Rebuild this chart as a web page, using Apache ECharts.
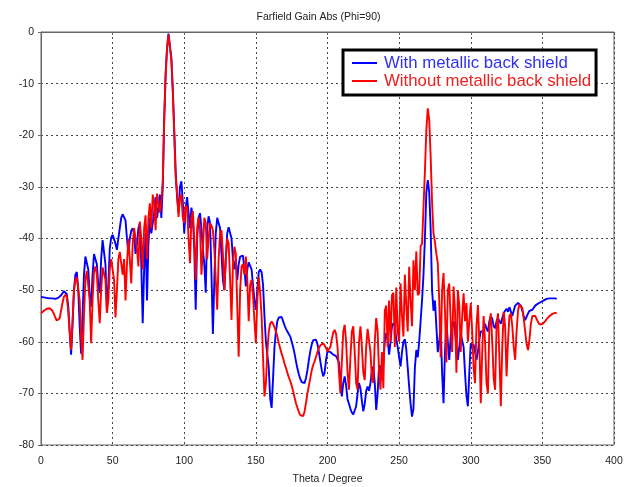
<!DOCTYPE html>
<html>
<head>
<meta charset="utf-8">
<script src="https://cdn.jsdelivr.net/npm/echarts@6/dist/echarts.min.js"></script>
<style>html,body{margin:0;padding:0;background:#fff}#c{width:637px;height:487px}</style>
</head>
<body>
<div id="c"></div>
<script>
// Theta samples: 0..360 degrees, 1-degree step
const thetaStart = 0;
const thetaStep = 1;
const xTicks = [0, 50, 100, 150, 200, 250, 300, 350, 400];
const yTicks = [-80, -70, -60, -50, -40, -30, -20, -10, 0];
const seriesNames = ['With metallic back shield', 'Without metallic back shield'];

// Gain (dB) with metallic back shield, theta = 0..360
const withShield = [
-51.3,-51.3,-51.4,-51.4,-51.5,-51.5,-51.6,-51.6,-51.6,-51.7,
-51.7,-51.6,-51.5,-51.3,-51.0,-50.6,-50.2,-50.1,-50.8,-53,
-58,-62.5,-57,-50,-47,-46.5,-50,-57,-62.3,-55,
-47,-43.5,-43.2,-46,-51,-53.2,-47,-43,-42.7,-45,
-49,-50.5,-44,-40.3,-40,-45,-53.8,-49,-42,-39.8,
-39.3,-39.5,-41,-42.2,-40,-38,-36,-35.3,-35.1,-36.5,
-40,-43,-40,-38.5,-38,-39,-43,-41,-38,-37,
-45,-56.4,-46,-39,-52,-41,-36,-39,-37,-35,
-32,-36,-34,-31.5,-36,-30,-17,-8,-3,-0.3,
-0.5,-5,-11,-19,-27,-32,-35,-30,-28.9,-33,
-39,-34,-32,-35,-38,-34,-36,-42,-53.8,-40,
-36,-35.1,-38,-42,-45,-50.5,-38,-35.7,-37,-47,
-58.5,-48,-39,-36,-35.8,-38,-43,-48,-50,-44,
-39,-37.8,-37.7,-40,-44,-46,-44,-48,-45,-43.5,
-43.2,-43.3,-46,-49.3,-46,-44.6,-44.5,-46,-49,-52,
-53.8,-50,-46.5,-46,-46.5,-49,-55,-60,-60.3,-65,
-71,-72.8,-67,-61,-58,-56,-55.3,-55.1,-55.2,-56,
-56.8,-57.5,-58,-58.3,-59,-60,-61,-62.3,-63.8,-65.2,
-66.3,-67.2,-67.8,-68.1,-68,-67,-65.5,-63.5,-61.8,-60.5,
-59.7,-59.4,-59.6,-60.5,-62,-63.8,-65.5,-66.7,-66,-63.5,
-61.8,-61.6,-62,-62.3,-62.5,-62.6,-62.8,-63,-64,-67,
-70.6,-68,-66.7,-68.5,-71.2,-72,-73,-73.7,-74.1,-74,
-72.5,-70,-68,-69,-71.5,-73.5,-72,-69.5,-68.7,-69.5,
-68,-65.5,-64.8,-68,-73.2,-70,-64.5,-65,-67.4,-64,
-60,-58.3,-59.5,-62.5,-60,-57,-56.4,-57,-59.5,-61,
-63,-64.8,-62,-60,-59.5,-61.5,-65,-68.7,-72,-74.5,
-73,-65,-61.6,-63,-60,-56,-52,-47,-40,-31,
-28.7,-31,-38,-50,-54,-52,-57,-62,-60,-57,
-66,-71.9,-62,-56.2,-60,-63.5,-59,-56.5,-56,-58,
-61,-63.5,-61,-58.5,-58.3,-61,-66,-70.5,-72.5,-66,
-60.3,-61,-60.5,-62,-63.5,-62,-59.5,-58,-57.7,-58,
-56.5,-57.5,-58,-56,-55.1,-55.5,-57,-57.4,-56,-55.4,
-56,-56.5,-55.4,-54.5,-54,-53.6,-54.2,-53.3,-53.5,-55,
-54,-53,-52.7,-52.5,-52.5,-53,-54,-55,-55.8,-55.5,
-54.5,-54,-53.8,-53.8,-53.5,-53,-52.8,-52.6,-52.4,-52.3,
-52.2,-52,-51.8,-51.7,-51.6,-51.6,-51.6,-51.6,-51.6,-51.6,
-51.7
];

// Gain (dB) without metallic back shield, theta = 0..360
const withoutShield = [
-54.5,-54.2,-54,-53.8,-53.6,-53.5,-53.5,-53.6,-54,-54.6,
-55.3,-55.9,-56.1,-55.5,-54,-52.5,-51.3,-50.9,-51.3,-54,
-58,-61.6,-56,-50,-48,-47.5,-47.4,-52,-59,-63.5,
-55,-48,-46.3,-46,-52,-60.3,-52,-46.5,-45.4,-47,
-52,-56.4,-50,-45.6,-45.4,-48,-54.4,-52,-46,-44,
-43.8,-48,-55.3,-50,-44,-42.6,-42.5,-47,-44,-52,
-45,-40,-44,-48.7,-41,-38,-37.7,-42,-45.4,-36.7,
-40,-46,-38,-35.5,-44,-36,-33.2,-38,-31.5,-33,
-38.4,-31.3,-31,-35,-33,-29,-17,-8.5,-3.2,-0.5,
-0.6,-5.5,-11.5,-19.5,-28,-31.3,-35.8,-32,-31.5,-36,
-37,-33.6,-34,-40,-44.8,-36,-34.7,-40,-48,-38,
-35.8,-38,-47,-42,-36,-37,-44,-40,-37,-37.5,
-38.4,-42,-48,-53.8,-44,-39,-38.4,-43,-50,-44,
-40,-41,-48,-55.8,-45,-41.6,-43,-53.2,-62.9,-50,
-45.4,-45,-47,-43.5,-48,-56,-49,-48,-51,-56,
-60.3,-52,-47.5,-50.6,-55,-63,-70.6,-68,-62,-58,
-56.5,-56.1,-56.5,-57.2,-58,-59,-60.3,-61.3,-62.3,-63.2,
-64.2,-65.1,-66,-66.9,-67.6,-68.5,-69.6,-70.8,-71.9,-72.8,
-73.6,-74.2,-74.5,-74.4,-73.5,-71.8,-70,-68.5,-67,-65.5,
-64.5,-63.8,-62.9,-62,-61.2,-60.7,-60.4,-60.3,-60.6,-61.2,
-61.9,-62,-61,-59.5,-58.2,-57.7,-58.5,-61,-66,-70,
-64,-58,-56.7,-60,-66,-69.3,-63,-58,-57,-62,
-68,-69.3,-60,-57,-61,-66,-67.4,-61,-57.5,-57.3,
-62,-67,-68,-60,-55.4,-58,-66,-69.3,-62,-69,
-54,-53,-61,-52,-60,-51,-50.5,-61,-49.5,-58,
-60,-48.7,-55,-59,-47,-53,-58,-45.5,-52,-57,
-44.2,-50,-42.5,-51,-50.6,-41.5,-41,-34,-27,-19,
-14.8,-17,-24,-33,-39,-40.7,-43,-44.8,-52,-63,
-50,-46.7,-54,-64,-50,-48.7,-56,-62,-49.3,-54,
-66,-50,-53,-62,-55,-50.6,-56,-52.5,-60,-56,
-52.5,-58,-65,-68,-57,-52.9,-60,-71.9,-62,-55,
-60,-68,-70,-57,-54.5,-60,-67,-69.3,-57,-54.5,
-63,-72.5,-61,-54.2,-57,-66.7,-60,-55,-54.5,-57,
-61,-63.5,-58,-54,-52.8,-52.5,-53.5,-55.5,-58,-60.5,
-61.6,-59.5,-56.5,-55,-54.8,-55,-55.6,-56.2,-56.6,-56.7,
-56.6,-56.3,-56,-55.6,-55.3,-55,-54.8,-54.6,-54.5,-54.4,
-54.5
];

const FONT = '"Liberation Sans", Arial, sans-serif';
const toPairs = arr => arr.map((v, i) => [thetaStart + i * thetaStep, v]);

const chart = echarts.init(document.getElementById('c'), null, {renderer: 'canvas'});
chart.setOption({
  animation: false,
  backgroundColor: '#fff',
  title: {
    text: 'Farfield Gain Abs (Phi=90)',
    left: 'center',
    top: 7,
    textStyle: {fontSize: 10.5, fontWeight: 'normal', color: '#222', fontFamily: FONT}
  },
  legend: {
    orient: 'vertical',
    left: 343,
    top: 50,
    padding: [4, 5, 5, 9],
    itemGap: 0,
    itemWidth: 25,
    itemHeight: 2,
    icon: 'rect',
    borderColor: '#000',
    borderWidth: 3,
    backgroundColor: '#fff',
    data: [
      {name: seriesNames[0], textStyle: {color: '#3030ee'}},
      {name: seriesNames[1], textStyle: {color: '#ee2020'}}
    ],
    textStyle: {fontSize: 16.8, lineHeight: 18, fontFamily: FONT, padding: [0, 0, 0, 2]}
  },
  grid: {left: 41, right: 23, top: 32, bottom: 42, show: true, borderColor: '#666', borderWidth: 1,
         containLabel: false, outerBoundsMode: 'none'},
  xAxis: {
    type: 'value',
    min: xTicks[0], max: xTicks[xTicks.length - 1], interval: 50,
    name: 'Theta / Degree', nameLocation: 'middle', nameGap: 29,
    nameTextStyle: {fontSize: 10.5, color: '#222', fontFamily: FONT},
    axisLine: {lineStyle: {color: '#666', width: 1}},
    axisTick: {show: true, length: 3, lineStyle: {color: '#666'}},
    axisLabel: {fontSize: 10.5, color: '#222', fontFamily: FONT, margin: 11},
    splitLine: {show: true, lineStyle: {color: '#444', type: [2, 3], width: 1}}
  },
  yAxis: {
    type: 'value',
    min: yTicks[0], max: yTicks[yTicks.length - 1], interval: 10,
    axisLine: {show: true, lineStyle: {color: '#666', width: 1}},
    axisTick: {show: true, length: 3, lineStyle: {color: '#666'}},
    axisLabel: {fontSize: 10.5, color: '#222', fontFamily: FONT, margin: 7},
    splitLine: {show: true, lineStyle: {color: '#444', type: [2, 3], width: 1}}
  },
  series: [
    {name: seriesNames[0], type: 'line', data: toPairs(withShield), showSymbol: false, symbol: 'none',
     lineStyle: {color: '#0000ff', width: 1.9}, itemStyle: {color: '#0000ff'}, z: 2},
    {name: seriesNames[1], type: 'line', data: toPairs(withoutShield), showSymbol: false, symbol: 'none',
     lineStyle: {color: '#ff0000', width: 1.9}, itemStyle: {color: '#ff0000'}, z: 3}
  ]
});
</script>
</body>
</html>
